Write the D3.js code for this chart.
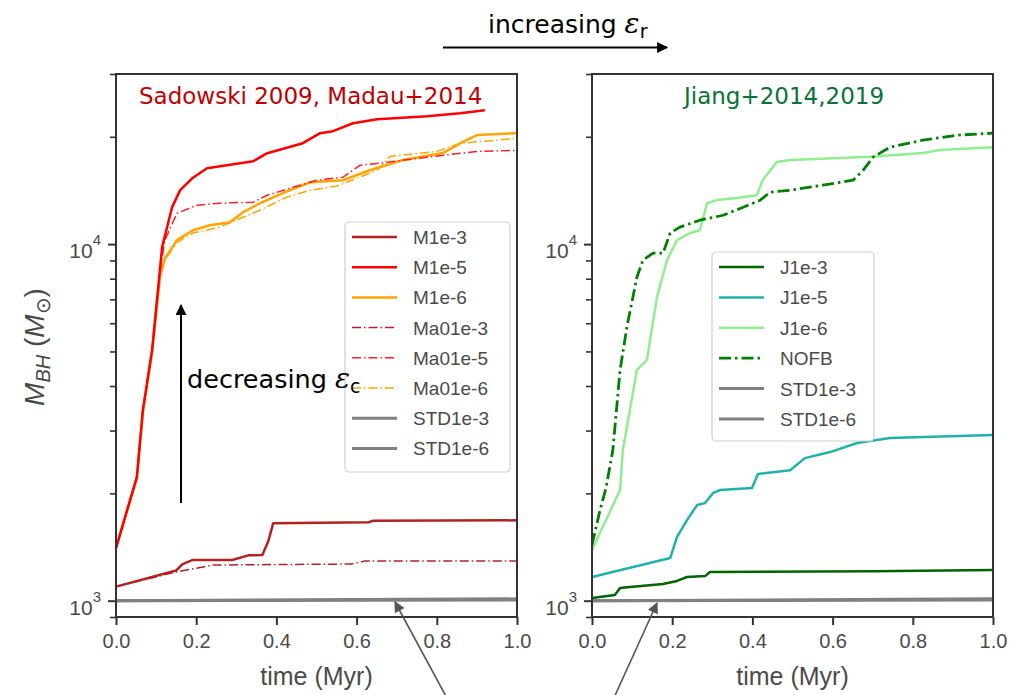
<!DOCTYPE html>
<html>
<head>
<meta charset="utf-8">
<script src="https://cdn.jsdelivr.net/npm/d3@7"></script>
<style>
  body { margin: 0; background: #fff; }
  svg { display: block; }
</style>
</head>
<body>
<div id="chart"></div>
<script>
const width = 1028
const height = 695

// time (Myr), M_BH (Msun)
const M1e3   = [[0,1095],[0.15,1215],[0.165,1265],[0.19,1300],[0.29,1300],[0.33,1340],[0.365,1343],[0.38,1470],[0.392,1650],[0.63,1660],[0.64,1675],[1,1680]]
const M1e5   = [[0,1405],[0.052,2222],[0.067,3424],[0.09,5044],[0.115,9808],[0.14,12700],[0.16,14170],[0.19,15300],[0.227,16330],[0.342,17080],[0.377,17990],[0.466,19190],[0.509,20470],[0.541,20740],[0.591,21830],[0.651,22400],[0.776,22850],[0.858,23300],[0.92,23740]]
const M1e6   = [[0,1405],[0.052,2210],[0.067,3380],[0.09,4980],[0.11,8185],[0.122,9120],[0.152,10260],[0.192,10940],[0.234,11300],[0.284,11520],[0.317,12290],[0.359,13020],[0.416,13900],[0.484,14910],[0.566,15110],[0.633,16110],[0.716,17220],[0.815,18000],[0.865,19350],[0.9,20230],[1,20470]]
const Ma01e3 = [[0,1095],[0.15,1204],[0.242,1259],[0.586,1267],[0.621,1292],[1,1292]]
const Ma01e5 = [[0,1405],[0.052,2222],[0.067,3424],[0.09,5044],[0.11,8445],[0.122,10260],[0.152,12210],[0.202,12850],[0.259,13030],[0.342,13110],[0.377,13710],[0.441,14430],[0.501,15110],[0.566,15400],[0.608,16630],[0.676,16960],[0.776,17530],[0.9,18200],[1,18320]]
const Ma01e6 = [[0,1405],[0.052,2208],[0.067,3380],[0.09,4980],[0.11,8025],[0.122,9016],[0.152,10110],[0.192,10740],[0.259,11160],[0.359,12450],[0.426,13550],[0.484,14160],[0.551,14550],[0.651,16110],[0.683,17620],[0.8,18200],[0.858,19170],[1,19800]]
const STD1e3 = [[0,1000],[1,1012]]
const STD1e6 = [[0,1000],[1,1004]]

const J1e3 = [[0,1018],[0.057,1038],[0.07,1085],[0.095,1092],[0.177,1114],[0.212,1136],[0.237,1165],[0.282,1172],[0.294,1204],[0.7,1210],[1,1219]]
const J1e5 = [[0,1165],[0.195,1317],[0.212,1509],[0.237,1683],[0.262,1854],[0.282,1878],[0.302,2005],[0.319,2043],[0.399,2070],[0.414,2265],[0.494,2323],[0.531,2511],[0.594,2611],[0.661,2768],[0.743,2858],[1,2914]]
const J1e6 = [[0,1387],[0.07,2043],[0.077,2646],[0.112,4436],[0.137,4732],[0.162,7100],[0.187,9016],[0.212,10260],[0.244,10740],[0.269,10940],[0.287,13030],[0.312,13290],[0.362,13460],[0.411,13720],[0.426,15130],[0.461,17000],[0.494,17220],[0.693,17570],[0.825,18000],[0.868,18360],[1,18700]]
const NOFB = [[0,1435],[0.02,1795],[0.035,2070],[0.052,2646],[0.07,4436],[0.087,5850],[0.112,8075],[0.127,9016],[0.152,9430],[0.177,9430],[0.195,10740],[0.219,11160],[0.269,11670],[0.327,12050],[0.377,12690],[0.419,13270],[0.444,13990],[0.494,14160],[0.576,14640],[0.651,15110],[0.676,16110],[0.701,17530],[0.743,18700],[0.825,19570],[0.91,20210],[1,20470]]

const xTicks = [0, 0.2, 0.4, 0.6, 0.8, 1.0]
const yMajor = [1000, 10000]
const yMinor = [900, 2000, 3000, 4000, 5000, 6000, 7000, 8000, 9000, 20000, 30000]

const leftSeries = [
  {name: "STD1e-3", data: STD1e3, color: "#808080", w: 3, dash: null},
  {name: "STD1e-6", data: STD1e6, color: "#808080", w: 3, dash: null},
  {name: "Ma01e-3", data: Ma01e3, color: "#b22222", w: 1.5, dash: "9,3,1.5,3"},
  {name: "M1e-3", data: M1e3, color: "#b22222", w: 2.5, dash: null},
  {name: "Ma01e-6", data: Ma01e6, color: "#ffa500", w: 1.5, dash: "9,3,1.5,3"},
  {name: "M1e-6", data: M1e6, color: "#ffa500", w: 2.5, dash: null},
  {name: "Ma01e-5", data: Ma01e5, color: "#ff2020", w: 1.5, dash: "9,3,1.5,3"},
  {name: "M1e-5", data: M1e5, color: "#ff0000", w: 2.5, dash: null}
]
const leftLegend = ["M1e-3", "M1e-5", "M1e-6", "Ma01e-3", "Ma01e-5", "Ma01e-6", "STD1e-3", "STD1e-6"]

const rightSeries = [
  {name: "STD1e-3", data: STD1e3, color: "#808080", w: 3, dash: null},
  {name: "STD1e-6", data: STD1e6, color: "#808080", w: 3, dash: null},
  {name: "J1e-3", data: J1e3, color: "#006400", w: 2.5, dash: null},
  {name: "J1e-5", data: J1e5, color: "#20b2aa", w: 2.5, dash: null},
  {name: "J1e-6", data: J1e6, color: "#90ee90", w: 2.5, dash: null},
  {name: "NOFB", data: NOFB, color: "#008000", w: 2.8, dash: "12,4,2.5,4"}
]
const rightLegend = ["J1e-3", "J1e-5", "J1e-6", "NOFB", "STD1e-3", "STD1e-6"]

const svg = d3.select("#chart").append("svg").attr("width", width).attr("height", height)

const plotTop = 74, plotBottom = 617, panelW = 401
const y = d3.scaleLog().domain([900, 30000]).range([plotBottom, plotTop])

// arrow heads
const defs = svg.append("defs")
defs.append("marker").attr("id", "blk").attr("viewBox", "0 0 10 10")
  .attr("refX", 9).attr("refY", 5).attr("markerWidth", 13).attr("markerHeight", 11)
  .attr("markerUnits", "userSpaceOnUse").attr("orient", "auto")
  .append("path").attr("d", "M0,0 L10,5 L0,10 z").attr("fill", "#000")
defs.append("marker").attr("id", "gry").attr("viewBox", "0 0 10 10")
  .attr("refX", 9).attr("refY", 5).attr("markerWidth", 13).attr("markerHeight", 11)
  .attr("markerUnits", "userSpaceOnUse").attr("orient", "auto")
  .append("path").attr("d", "M0,0 L10,5 L0,10 z").attr("fill", "#555")

function drawPanel(x0, series, legendNames, legendBox, title, titleColor, titleX) {
  const x = d3.scaleLinear().domain([0, 1]).range([x0, x0 + panelW])
  const g = svg.append("g")

  const line = d3.line().x(d => x(d[0])).y(d => y(d[1]))
  g.selectAll(".series").data(series).enter().append("path")
    .attr("class", "series")
    .attr("d", d => line(d.data))
    .attr("fill", "none")
    .attr("stroke", d => d.color)
    .attr("stroke-width", d => d.w)
    .attr("stroke-dasharray", d => d.dash)
    .attr("stroke-linejoin", "round")

  // frame
  g.append("rect").attr("x", x0).attr("y", plotTop).attr("width", panelW).attr("height", plotBottom - plotTop)
    .attr("fill", "none").attr("stroke", "#333").attr("stroke-width", 2)

  // x axis
  const xAxis = g.append("g").attr("transform", `translate(0,${plotBottom})`)
    .call(d3.axisBottom(x).tickValues(xTicks).tickFormat(d3.format(".1f")).tickSize(8).tickPadding(9))
  xAxis.select(".domain").remove()
  xAxis.selectAll("line").attr("stroke", "#333").attr("stroke-width", 2)
  xAxis.selectAll("text").attr("font-family", "Liberation Sans, Arial, sans-serif")
    .attr("font-size", 20).attr("fill", "#4a4a4a")

  // y axis major + minor
  const yAx = g.append("g").attr("transform", `translate(${x0},0)`)
    .call(d3.axisLeft(y).tickValues(yMajor).tickFormat("").tickSize(8))
  yAx.select(".domain").remove()
  yAx.selectAll("line").attr("stroke", "#333").attr("stroke-width", 2)
  const yMin = g.append("g").attr("transform", `translate(${x0},0)`)
    .call(d3.axisLeft(y).tickValues(yMinor).tickFormat("").tickSize(6))
  yMin.select(".domain").remove()
  yMin.selectAll("line").attr("stroke", "#333").attr("stroke-width", 1.6)

  yMajor.forEach(v => {
    const t = g.append("text").attr("x", x0 - 15).attr("y", y(v) + 14)
      .attr("text-anchor", "end").attr("font-family", "Liberation Sans, Arial, sans-serif")
      .attr("font-size", 21).attr("fill", "#4a4a4a")
    t.append("tspan").text("10")
    t.append("tspan").attr("dy", -13).attr("font-size", 15).text(Math.round(Math.log10(v)))
  })

  // x label
  g.append("text").attr("x", x0 + panelW / 2).attr("y", 685).attr("text-anchor", "middle")
    .attr("font-family", "Liberation Sans, Arial, sans-serif").attr("font-size", 25)
    .attr("fill", "#4a4a4a").text("time (Myr)")

  // title
  g.append("text").attr("x", titleX).attr("y", 104)
    .attr("font-family", "DejaVu Sans, sans-serif").attr("font-size", 23)
    .attr("fill", titleColor).text(title)

  // legend
  const lg = g.append("g")
  lg.append("rect").attr("x", legendBox.x).attr("y", legendBox.y).attr("width", legendBox.w)
    .attr("height", legendBox.h).attr("rx", 4).attr("fill", "#fff").attr("fill-opacity", 0.85)
    .attr("stroke", "#d0d0d0").attr("stroke-width", 1.2)
  legendNames.forEach((name, i) => {
    const s = series.find(d => d.name === name)
    const ry = legendBox.row0 + i * legendBox.step
    lg.append("line").attr("x1", legendBox.x + 7).attr("x2", legendBox.x + 52)
      .attr("y1", ry).attr("y2", ry)
      .attr("stroke", s.color).attr("stroke-width", s.w).attr("stroke-dasharray", s.dash)
    lg.append("text").attr("x", legendBox.x + 68).attr("y", ry + 7)
      .attr("font-family", "Liberation Sans, Arial, sans-serif").attr("font-size", 19)
      .attr("fill", "#4a4a4a").text(name)
  })
  return x
}

drawPanel(116, leftSeries, leftLegend, {x: 345, y: 222, w: 165, h: 250, row0: 237, step: 30.2},
  "Sadowski 2009, Madau+2014", "#c00000", 139)
drawPanel(592, rightSeries, rightLegend, {x: 712, y: 252, w: 162, h: 189, row0: 267, step: 30.4},
  "Jiang+2014,2019", "#0a7238", 684)

// y label
const yl = svg.append("text").attr("transform", "translate(44,347) rotate(-90)")
  .attr("text-anchor", "middle").attr("font-family", "Liberation Sans, Arial, sans-serif")
  .attr("font-size", 28).attr("fill", "#4a4a4a")
yl.append("tspan").attr("font-style", "italic").text("M")
yl.append("tspan").attr("font-style", "italic").attr("font-size", 20).attr("dy", 6).text("BH")
yl.append("tspan").attr("dy", -6).text(" (")
yl.append("tspan").attr("font-style", "italic").text("M")
yl.append("tspan").attr("font-size", 20).attr("dy", 6).text("\u2299")
yl.append("tspan").attr("dy", -6).text(")")

// annotations
svg.append("line").attr("x1", 443).attr("y1", 47.5).attr("x2", 667).attr("y2", 47.5)
  .attr("stroke", "#000").attr("stroke-width", 2).attr("marker-end", "url(#blk)")
const inc = svg.append("text").attr("x", 488).attr("y", 33)
  .attr("font-family", "DejaVu Sans, sans-serif").attr("font-size", 25).attr("fill", "#000")
inc.append("tspan").text("increasing ")
inc.append("tspan").attr("font-family", "DejaVu Serif, serif").attr("font-style", "italic")
  .attr("font-size", 28).text("\u03b5")
inc.append("tspan").attr("font-size", 19).attr("dy", 5).text("r")

svg.append("line").attr("x1", 181).attr("y1", 503).attr("x2", 181).attr("y2", 305)
  .attr("stroke", "#000").attr("stroke-width", 2).attr("marker-end", "url(#blk)")
const dec = svg.append("text").attr("x", 187).attr("y", 388)
  .attr("font-family", "DejaVu Sans, sans-serif").attr("font-size", 25.5).attr("fill", "#000")
dec.append("tspan").text("decreasing ")
dec.append("tspan").attr("font-family", "DejaVu Serif, serif").attr("font-style", "italic")
  .attr("font-size", 28).text("\u03b5")
dec.append("tspan").attr("font-size", 19).attr("dy", 5).text("c")

svg.append("line").attr("x1", 448).attr("y1", 700).attr("x2", 395).attr("y2", 602)
  .attr("stroke", "#555").attr("stroke-width", 1.6).attr("marker-end", "url(#gry)")
svg.append("line").attr("x1", 613).attr("y1", 700).attr("x2", 657).attr("y2", 603)
  .attr("stroke", "#555").attr("stroke-width", 1.6).attr("marker-end", "url(#gry)")
</script>
</body>
</html>
